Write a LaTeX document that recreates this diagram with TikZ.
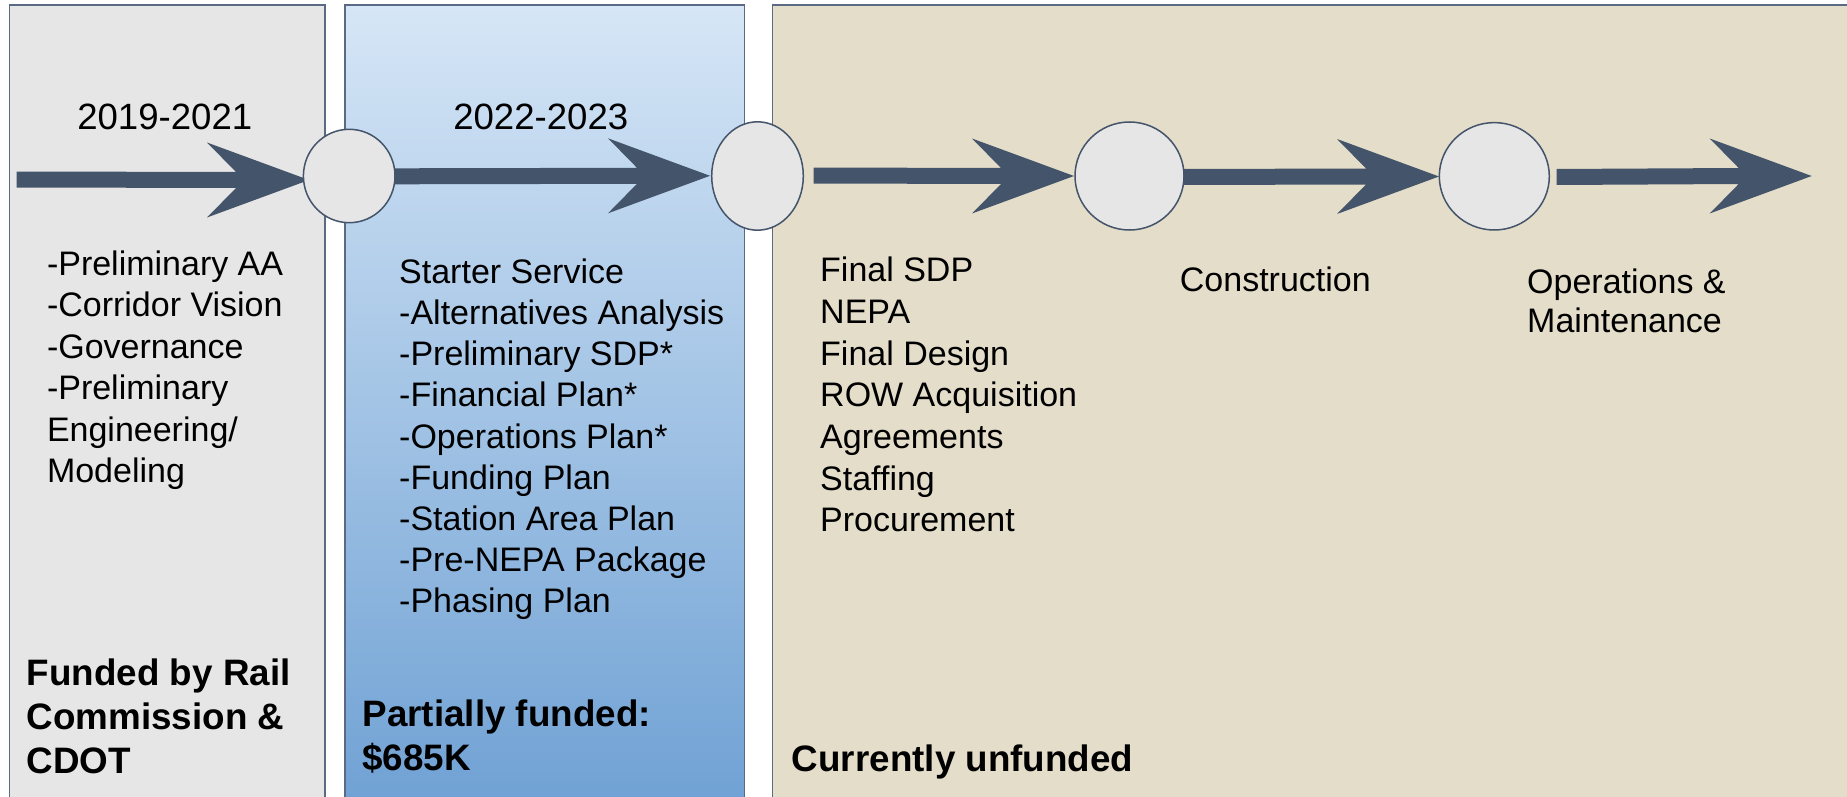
\documentclass[tikz,border=0pt]{standalone}
\usepackage{fontspec}
\setmainfont{Liberation Sans}
\usetikzlibrary{shapes.geometric,calc}
\definecolor{arrowc}{HTML}{44546A}
\definecolor{panelline}{HTML}{5B6A84}
\definecolor{graybg}{HTML}{E6E6E6}
\definecolor{bluetop}{HTML}{D6E6F6}
\definecolor{bluebot}{HTML}{6FA1D4}
\definecolor{tanbg}{HTML}{E4DDC9}
\definecolor{circfill}{HTML}{E6E6E6}
\newcommand{\blockarrow}[2]{%
  \fill[arrowc] ($(#1)+(0,-8)$) -- ($(#2)+(-73,-8)$) -- ($(#2)+(-102,-37.5)$) -- (#2)
    -- ($(#2)+(-102,37.5)$) -- ($(#2)+(-73,8)$) -- ($(#1)+(0,8)$) -- cycle;}
\begin{document}
\begin{tikzpicture}[x=1pt,y=-1pt,
  panel/.style={draw=panelline, line width=1.3pt},
  circ/.style={ellipse, draw=arrowc, fill=circfill, line width=1.5pt, inner sep=0pt},
  lst/.style={anchor=base west, inner sep=0pt, align=left, font=\fontsize{34}{41.5}\selectfont},
  yr/.style={anchor=base, inner sep=0pt, font=\fontsize{36.6}{44}\selectfont},
  bld/.style={anchor=base west, inner sep=0pt, align=left, font=\bfseries\fontsize{36.8}{44}\selectfont}]
\useasboundingbox (0,0) rectangle (1847,797);
\clip (0,0) rectangle (1847,797);
\fill[white] (0,0) rectangle (1847,797);
% panels
\path[panel, fill=graybg] (9.3,5) rectangle (325,810);
\shade[top color=bluetop, bottom color=bluebot] (345,5) rectangle (744.3,810);
\draw[panel] (345,5) rectangle (744.3,810);
\path[panel, fill=tanbg] (772.3,5) rectangle (1860,810);
% arrow end points
\coordinate (a1s) at (16.7,179.5);  \coordinate (a1e) at (309,180);
\coordinate (a2s) at (395,176.3);   \coordinate (a2e) at (710,175.8);
\coordinate (a3s) at (813.5,175.5); \coordinate (a3e) at (1074,176);
\coordinate (a4s) at (1184,177);    \coordinate (a4e) at (1439,176.5);
\coordinate (a5s) at (1556.7,177);  \coordinate (a5e) at (1811.7,176);
\blockarrow{a1s}{a1e}
\blockarrow{a2s}{a2e}
\blockarrow{a3s}{a3e}
\blockarrow{a4s}{a4e}
\blockarrow{a5s}{a5e}
% circles
\node[circ, minimum width=91.6, minimum height=93.4] (c1) at (349.2,176) {};
\node[circ, minimum width=91.6, minimum height=108.4] (c2) at (757.5,176) {};
\node[circ, minimum width=109, minimum height=108] (c3) at (1129.5,176) {};
\node[circ, minimum width=110, minimum height=107.4] (c4) at (1494.3,176.3) {};
% year labels
\node[yr] (y1) at (164.8,129.3) {2019-2021};
\node[yr] (y2) at (540.8,129.3) {2022-2023};
% lists (base anchor = baseline of the last line)
\node[lst] (l1) at (46.8,482.5) {-Preliminary AA\\-Corridor Vision\\-Governance\\-Preliminary\\Engineering/\\Modeling};
\node[lst, font=\fontsize{34}{41.2}\selectfont] (l2) at (399,612.9) {Starter Service\\-Alternatives Analysis\\-Preliminary SDP*\\-Financial Plan*\\-Operations Plan*\\-Funding Plan\\-Station Area Plan\\-Pre-NEPA Package\\-Phasing Plan};
\node[lst, font=\fontsize{34}{41.7}\selectfont] (l3) at (820,531.9) {Final SDP\\NEPA\\Final Design\\ROW Acquisition\\Agreements\\Staffing\\Procurement};
\node[lst] (l4) at (1179.7,291.7) {Construction};
\node[lst, font=\fontsize{34}{39.5}\selectfont] (l5) at (1527,332.5) {Operations \&\\Maintenance};
% funding
\node[bld] (f1) at (26.6,773) {Funded by Rail\\Commission \&\\CDOT};
\node[bld] (f2) at (362.3,770) {Partially funded:\\\$685K};
\node[bld] (f3) at (791.7,771.7) {Currently unfunded};
\end{tikzpicture}
\end{document}
